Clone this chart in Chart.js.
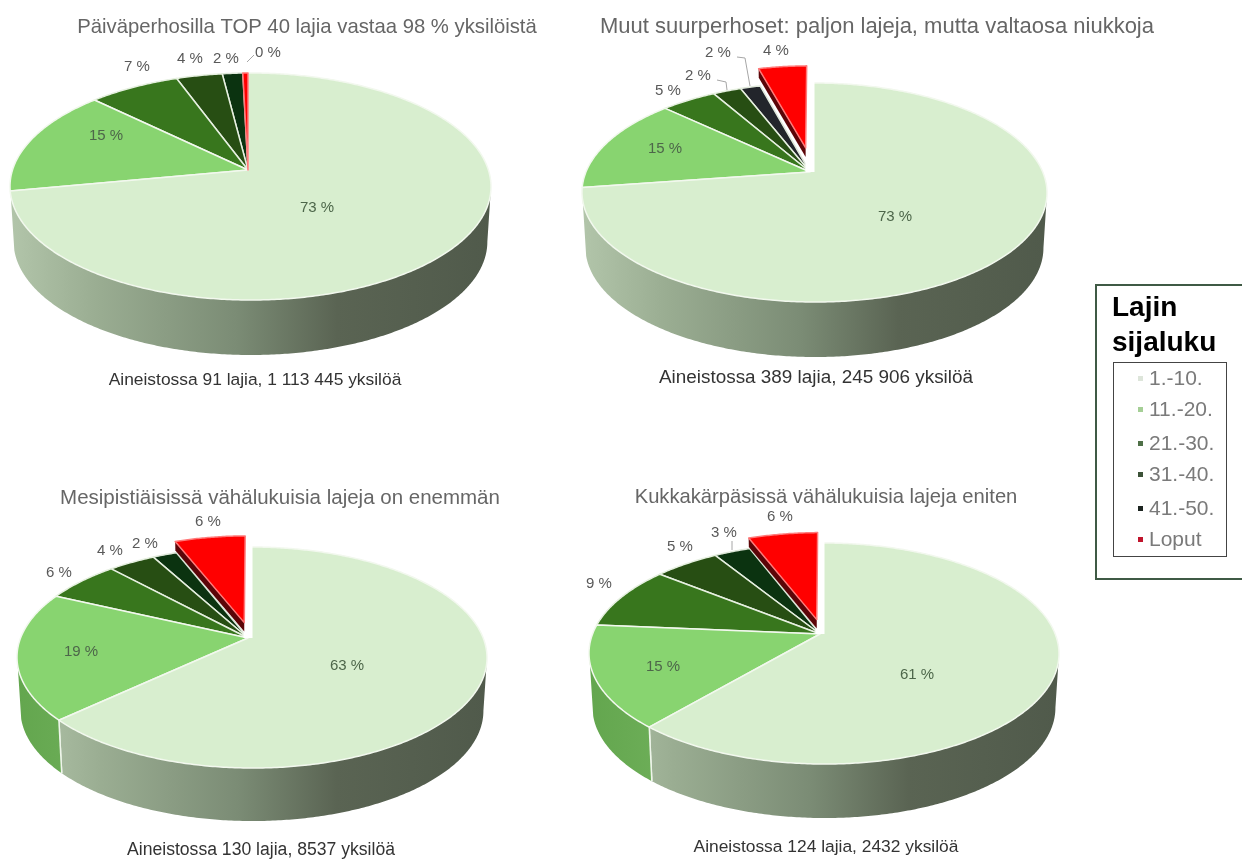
<!DOCTYPE html>
<html>

<head>
    <meta charset="utf-8">
    <title>Lajien runsaus</title>
    <script src="https://cdn.jsdelivr.net/npm/chart.js@4/dist/chart.umd.min.js"></script>
    <style>
        body { margin: 0; background: #fff; font-family: "Liberation Sans", Arial, sans-serif; }
        canvas { position: absolute; filter: blur(0.4px); }
        #legendBox { position: absolute; left: 1095px; top: 284px; width: 160px; height: 292px; border: 2px solid #3f5a45; box-sizing: content-box; overflow: hidden; filter: blur(0.4px); }
        #legendTitle { position: absolute; left: 15px; top: 3px; font-size: 28px; line-height: 35px; font-weight: bold; color: #000; }
        #legendList { position: absolute; left: 16px; top: 76px; width: 112px; height: 193px; border: 1.5px solid #444; background: #fff; }
        .row { position: absolute; left: 35px; font-size: 21px; line-height: 24px; color: #7a7a7a; white-space: nowrap; }
        .row i { position: absolute; left: -11px; top: 10px; width: 5px; height: 5px; }
    </style>
</head>

<body>
    <div id="legendBox">
        <div id="legendTitle">Lajin<br>sijaluku</div>
        <div id="legendList"></div>
    </div>
    <script>
        // data
        const rankLabels = ['1.-10.', '11.-20.', '21.-30.', '31.-40.', '41.-50.', 'Loput'];
        const butterflies = [72.6, 15.4, 7.2, 3.6, 1.6, 0.4];
        const otherMoths = [73.2, 14.5, 4.7, 2.4, 1.7, 4.2];
        const bees = [63.0, 19.0, 6.2, 3.9, 2.0, 5.9];
        const hoverflies = [61.2, 15.2, 9.4, 5.4, 3.0, 5.8];

        const titles = [
            'Päiväperhosilla TOP 40 lajia vastaa 98 % yksilöistä',
            'Muut suurperhoset: paljon lajeja, mutta valtaosa niukkoja',
            'Mesipistiäisissä vähälukuisia lajeja on enemmän',
            'Kukkakärpäsissä vähälukuisia lajeja eniten'
        ];
        const footers = [
            'Aineistossa 91 lajia, 1 113 445 yksilöä',
            'Aineistossa 389 lajia, 245 906 yksilöä',
            'Aineistossa 130 lajia, 8537 yksilöä',
            'Aineistossa 124 lajia, 2432 yksilöä'
        ];

        const sliceColors = ['#d8eecf', '#88d470', '#38761d', '#274e13', '#0b3310', '#ff0000'];
        const sliceColorsMoths = ['#d8eecf', '#88d470', '#38761d', '#274e13', '#22252b', '#ff0000'];
        const sliceBorders = ['#f2f8ee', '#f2f8ee', '#e6f0e0', '#e6f0e0', '#dfe8da', '#ff7a7a'];
        const legendDots = ['#dde5da', '#a5cf96', '#4f7048', '#3c5238', '#1c2420', '#c0142c'];
        const legendRowTops = [79, 110, 144, 175, 209, 240];

        // layout, page pixels
        const boxes = [
            { left: 0, top: 0, width: 614, height: 400, titleSize: 20.3, titlePad: 15, cx: 248, cy: 170, back: 97, front: 130, toLeft: 238, toRight: 243, depth: 55, footSize: 17.4, footX: 255, footY: 380 },
            { left: 575, top: 0, width: 604, height: 400, titleSize: 22, titlePad: 14, cx: 810, cy: 172, back: 89, front: 130, toLeft: 228, toRight: 237, depth: 55, footSize: 18.9, footX: 816, footY: 378 },
            { left: 0, top: 470, width: 560, height: 389, titleSize: 20.5, titlePad: 16, cx: 248, cy: 638, back: 91, front: 130, toLeft: 231, toRight: 239, depth: 53, footSize: 17.6, footX: 261, footY: 850 },
            { left: 580, top: 470, width: 492, height: 389, titleSize: 20.2, titlePad: 15, cx: 820, cy: 634, back: 91, front: 130, toLeft: 231, toRight: 239, depth: 54, footSize: 17.4, footX: 826, footY: 847 }
        ];
        const labelSpots = [
            [[317, 208], [106, 136], [137, 67], [190, 59], [226, 59], [268, 53]],
            [[895, 217], [665, 149], [668, 91], [698, 76], [718, 53], [776, 51]],
            [[347, 666], [81, 652], [59, 573], [110, 551], [145, 544], [208, 522]],
            [[917, 675], [663, 667], [599, 584], [680, 547], [724, 533], [780, 517]]
        ];
        const leaders = [
            [[[254, 55], [247, 62]]],
            [[[737, 57], [745, 58], [750, 86]], [[717, 80], [726, 82], [727, 90]]],
            [],
            [[[732, 541], [732, 550]]]
        ];
        const explode = [
            [0, 0, 0, 0, 0, 0],
            [0, 0, 0, 0, 0, 24],
            [0, 0, 0, 0, 0, 15],
            [0, 0, 0, 0, 0, 14]
        ];
        const allValues = [butterflies, otherMoths, bees, hoverflies];
        const allColors = [sliceColors, sliceColorsMoths, sliceColors, sliceColors];

        // circle -> tilted ellipse, the centre of the circle lands off the ellipse centre like in a real perspective view
        function projector(b) {
            const k = (b.front - b.back) / (b.front + b.back);
            const s = Math.sqrt(1 - k * k);
            const m = s * (b.toRight - b.toLeft) / (b.toRight + b.toLeft);
            const p = b.front * (1 - k);
            const q = b.toRight * (s - m);
            return function (u, v) {
                const w = 1 - k * v - m * u;
                return [b.cx + q * u / w, b.cy + p * v / w];
            };
        }

        function drawSide(ctx, b, pts, fill, depth) {
            ctx.beginPath();
            pts.forEach((pt, i) => {
                if (i === 0) ctx.moveTo(pt[0], pt[1]); else ctx.lineTo(pt[0], pt[1]);
            });
            for (let i = pts.length - 1; i >= 0; i--) {
                ctx.lineTo(b.cx + (pts[i][0] - b.cx) * (1 - 0.015 * depth / b.depth), pts[i][1] + depth);
            }
            ctx.closePath();
            ctx.fillStyle = fill;
            ctx.fill();
        }

        const pie3d = {
            id: 'pie3d',
            beforeDatasetsDraw(chart, args, opts) {
                const ctx = chart.ctx;
                const b = boxes[opts.index];
                const project = projector(b);
                const k = (b.front - b.back) / (b.front + b.back);
                const arcs = chart.getDatasetMeta(0).data;
                ctx.save();
                ctx.translate(-b.left, -b.top);

                const wallGrad = ctx.createLinearGradient(b.cx - b.toLeft, 0, b.cx + b.toRight, 0);
                wallGrad.addColorStop(0, '#b2c5aa');
                wallGrad.addColorStop(0.18, '#9aad92');
                wallGrad.addColorStop(0.47, '#7b8c75');
                wallGrad.addColorStop(0.68, '#5a6453');
                wallGrad.addColorStop(1, '#505a4b');
                const wall2Grad = ctx.createLinearGradient(b.cx - b.toLeft, 0, b.cx - b.toLeft + 150, 0);
                wall2Grad.addColorStop(0, '#63a64e');
                wall2Grad.addColorStop(1, '#78b763');

                const shifted = arcs.map(el => {
                    const mid = (el.startAngle + el.endAngle) / 2;
                    const d = (el.options.offset || 0) / 100;
                    return { el, du: d * Math.cos(mid), dv: d * Math.sin(mid), nudge: d ? 2.5 : 0 };
                });
                const place = (s, a) => {
                    const pt = project(Math.cos(a) + s.du, Math.sin(a) + s.dv);
                    return [pt[0] + s.nudge, pt[1]];
                };
                const arcPoints = (s, from, to) => {
                    const pts = [];
                    const n = Math.max(2, Math.ceil((to - from) / 0.01));
                    for (let i = 0; i <= n; i++) {
                        pts.push(place(s, from + (to - from) * i / n));
                    }
                    return pts;
                };

                // front walls
                shifted.forEach((s, i) => {
                    const frontFrom = Math.asin(k), frontTo = Math.PI - Math.asin(k) - 0.08;
                    const from = Math.max(s.el.startAngle, frontFrom);
                    const to = Math.min(s.el.endAngle, frontTo);
                    if (to <= from) return;
                    drawSide(ctx, b, arcPoints(s, from, to), i === 0 ? wallGrad : wall2Grad, b.depth);
                    ctx.strokeStyle = '#eef5ea';
                    ctx.lineWidth = 1.5;
                    [[from, s.el.startAngle], [to, s.el.endAngle]].forEach(e => {
                        if (e[0] !== e[1]) return;
                        const t = place(s, e[0]);
                        ctx.beginPath();
                        ctx.moveTo(t[0], t[1]);
                        ctx.lineTo(b.cx + (t[0] - b.cx) * 0.985, t[1] + b.depth);
                        ctx.stroke();
                    });
                });

                const drawTop = s => {
                    const apex = project(s.du, s.dv);
                    apex[0] += s.nudge;
                    const pts = arcPoints(s, s.el.startAngle, s.el.endAngle);
                    ctx.beginPath();
                    ctx.moveTo(apex[0], apex[1]);
                    pts.forEach(pt => ctx.lineTo(pt[0], pt[1]));
                    ctx.closePath();
                    ctx.fillStyle = s.el.options.backgroundColor;
                    ctx.fill();
                    ctx.strokeStyle = s.el.options.borderColor;
                    ctx.lineWidth = s.el.options.borderWidth;
                    ctx.lineJoin = 'round';
                    ctx.stroke();
                };

                // slices still in the pie; the first one last so it stays over its neighbours
                shifted.slice(0, -1).reverse().forEach(drawTop);

                const loput = shifted[shifted.length - 1];
                if (loput.el.options.offset) {
                    // white gap left behind by the pulled out slice
                    const rimTop = project(0, -1), apexTop = project(0, 0);
                    ctx.strokeStyle = '#fff';
                    ctx.lineWidth = 9;
                    ctx.beginPath();
                    ctx.moveTo(apexTop[0], apexTop[1]);
                    ctx.lineTo(rimTop[0], rimTop[1] - 3);
                    ctx.stroke();
                    // its left cut face
                    const apex = project(loput.du, loput.dv);
                    apex[0] += loput.nudge;
                    drawSide(ctx, b, [apex, place(loput, loput.el.startAngle)], '#5c0508', 9);
                }
                drawTop(loput);

                // leader lines
                ctx.strokeStyle = '#a6a6a6';
                ctx.lineWidth = 1;
                leaders[opts.index].forEach(line => {
                    ctx.beginPath();
                    line.forEach((pt, i) => i === 0 ? ctx.moveTo(pt[0], pt[1]) : ctx.lineTo(pt[0], pt[1]));
                    ctx.stroke();
                });

                // value labels
                ctx.font = '15px "Liberation Sans", Arial, sans-serif';
                ctx.textAlign = 'center';
                ctx.textBaseline = 'middle';
                chart.data.datasets[0].data.forEach((val, i) => {
                    const spot = labelSpots[opts.index][i];
                    ctx.fillStyle = i < 2 ? '#4d664a' : '#595959';
                    ctx.fillText(Math.round(val) + ' %', spot[0], spot[1]);
                });

                // footer under the pie
                ctx.font = b.footSize + 'px "Liberation Sans", Arial, sans-serif';
                ctx.fillStyle = '#333333';
                ctx.fillText(footers[opts.index], b.footX, b.footY);
                ctx.restore();
                return false;
            }
        };

        allValues.forEach((values, n) => {
            const b = boxes[n];
            const canvas = document.createElement('canvas');
            canvas.width = b.width;
            canvas.height = b.height;
            canvas.style.left = b.left + 'px';
            canvas.style.top = b.top + 'px';
            document.body.appendChild(canvas);
            new Chart(canvas, {
                type: 'pie',
                data: {
                    labels: rankLabels,
                    datasets: [{
                        data: values,
                        backgroundColor: allColors[n],
                        borderColor: sliceBorders,
                        borderWidth: 1.5,
                        offset: explode[n]
                    }]
                },
                options: {
                    responsive: false,
                    animation: false,
                    events: [],
                    plugins: {
                        legend: { display: false },
                        tooltip: { enabled: false },
                        title: {
                            display: true,
                            text: titles[n],
                            color: '#666666',
                            font: { family: '"Liberation Sans", Arial, sans-serif', size: b.titleSize, weight: 'normal' },
                            padding: { top: b.titlePad, bottom: 0 }
                        },
                        pie3d: { index: n }
                    }
                },
                plugins: [pie3d]
            });
        });

        // rank legend on the right
        const list = document.getElementById('legendList');
        rankLabels.forEach((label, i) => {
            const row = document.createElement('div');
            row.className = 'row';
            row.style.top = (legendRowTops[i] - 76) + 'px';
            const dot = document.createElement('i');
            dot.style.background = legendDots[i];
            row.appendChild(dot);
            row.appendChild(document.createTextNode(label));
            list.appendChild(row);
        });
    </script>
</body>

</html>
